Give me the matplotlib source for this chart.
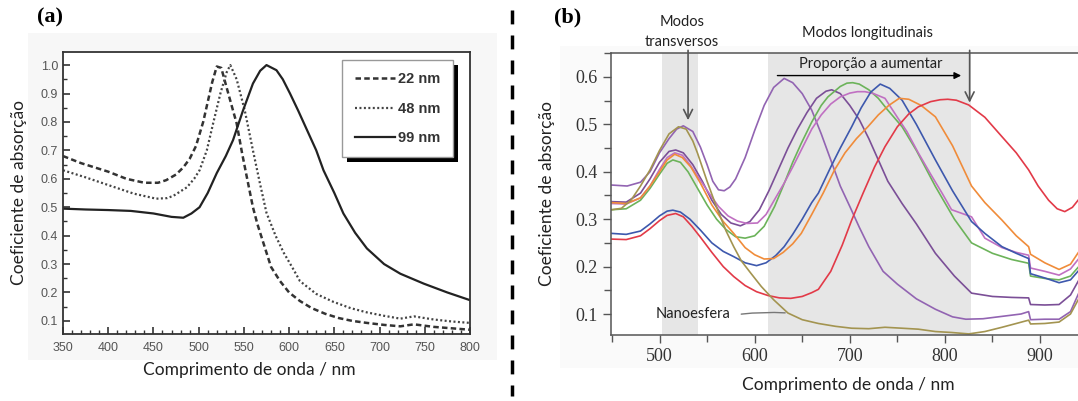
import matplotlib
matplotlib.use('Agg')
import matplotlib.pyplot as plt
from matplotlib.patches import Rectangle
from matplotlib.lines import Line2D
from matplotlib.ticker import MultipleLocator

# ---- painel (a): esferas de ouro de varios tamanhos ----
wl_22 = [350, 370, 400, 420, 440, 455, 464, 475, 483, 490, 497, 505, 510, 515, 520, 525, 531, 538, 542, 548, 553, 560, 565, 572, 580, 590, 600, 612, 625, 640, 655, 670, 686, 705, 723, 738, 760, 780, 800]
ab_22 = [0.68, 0.655, 0.625, 0.60, 0.586, 0.586, 0.595, 0.615, 0.64, 0.67, 0.715, 0.80, 0.87, 0.94, 0.995, 0.99, 0.92, 0.84, 0.795, 0.69, 0.61, 0.50, 0.44, 0.37, 0.29, 0.24, 0.20, 0.17, 0.145, 0.125, 0.11, 0.10, 0.093, 0.086, 0.081, 0.088, 0.079, 0.074, 0.069]

wl_48 = [350, 375, 400, 428, 453, 465, 472, 487, 495, 501, 509, 516, 524, 531, 535, 542, 551, 560, 568, 575, 585, 594, 605, 612, 630, 649, 668, 686, 705, 723, 738, 760, 780, 800]
ab_48 = [0.63, 0.605, 0.578, 0.548, 0.53, 0.532, 0.54, 0.57, 0.60, 0.63, 0.70, 0.795, 0.90, 0.975, 1.0, 0.95, 0.84, 0.70, 0.58, 0.48, 0.40, 0.34, 0.28, 0.24, 0.195, 0.167, 0.145, 0.13, 0.118, 0.108, 0.116, 0.105, 0.098, 0.093]

wl_99 = [350, 375, 400, 425, 450, 470, 483, 492, 501, 510, 520, 530, 538, 549, 560, 568, 575, 586, 593, 601, 610, 620, 630, 638, 650, 660, 673, 686, 705, 723, 749, 775, 800]
ab_99 = [0.495, 0.492, 0.49, 0.487, 0.478, 0.466, 0.463, 0.478, 0.50, 0.55, 0.62, 0.68, 0.736, 0.84, 0.935, 0.98, 1.0, 0.982, 0.95, 0.90, 0.84, 0.77, 0.70, 0.63, 0.55, 0.478, 0.41, 0.355, 0.30, 0.266, 0.231, 0.20, 0.173]

labels_a = ['22 nm', '48 nm', '99 nm']

# ---- painel (b): nanobastoes com proporcao crescente ----
wl_m = [450, 466, 480, 490, 500, 510, 518, 525, 535, 543, 550, 556, 562, 568, 574, 580, 590, 600, 610, 620, 631, 640, 650, 660, 670, 680, 690, 700, 710, 720, 735, 750, 770, 790, 808, 822, 840, 860, 880, 888, 890, 905, 920, 932, 942]
ab_m = [0.372, 0.370, 0.378, 0.40, 0.44, 0.47, 0.49, 0.497, 0.485, 0.452, 0.415, 0.38, 0.362, 0.36, 0.368, 0.385, 0.43, 0.487, 0.54, 0.578, 0.597, 0.588, 0.565, 0.53, 0.48, 0.425, 0.37, 0.327, 0.283, 0.242, 0.19, 0.163, 0.132, 0.11, 0.094, 0.089, 0.09, 0.095, 0.10, 0.105, 0.088, 0.089, 0.089, 0.105, 0.15]

wl_p = [450, 465, 480, 490, 500, 510, 517, 525, 535, 545, 555, 565, 575, 585, 595, 605, 615, 625, 635, 645, 655, 665, 675, 681, 690, 700, 710, 720, 730, 740, 755, 770, 790, 810, 828, 850, 870, 888, 890, 905, 920, 932, 942]
ab_p = [0.337, 0.336, 0.355, 0.385, 0.42, 0.443, 0.446, 0.44, 0.415, 0.38, 0.34, 0.31, 0.292, 0.286, 0.295, 0.32, 0.36, 0.405, 0.45, 0.49, 0.525, 0.555, 0.57, 0.573, 0.565, 0.54, 0.51, 0.47, 0.425, 0.38, 0.333, 0.29, 0.228, 0.18, 0.144, 0.137, 0.135, 0.134, 0.12, 0.119, 0.12, 0.14, 0.176]

wl_g = [450, 465, 480, 490, 500, 508, 514, 522, 530, 540, 550, 560, 570, 580, 590, 600, 610, 621, 630, 640, 649, 660, 670, 677, 690, 697, 703, 710, 720, 730, 740, 755, 770, 790, 810, 828, 850, 870, 888, 890, 905, 920, 932, 942]
ab_g = [0.32, 0.322, 0.34, 0.365, 0.395, 0.418, 0.425, 0.42, 0.40, 0.365, 0.33, 0.30, 0.278, 0.263, 0.26, 0.265, 0.285, 0.327, 0.37, 0.42, 0.46, 0.505, 0.54, 0.558, 0.58, 0.587, 0.588, 0.585, 0.573, 0.555, 0.53, 0.495, 0.445, 0.369, 0.30, 0.25, 0.228, 0.215, 0.207, 0.18, 0.175, 0.172, 0.18, 0.203]

wl_v = [450, 465, 480, 490, 500, 508, 516, 524, 532, 542, 552, 562, 572, 582, 592, 603, 612, 622, 631, 640, 650, 660, 670, 680, 690, 700, 708, 716, 725, 737, 750, 760, 772, 785, 797, 807, 828, 842, 860, 875, 888, 890, 905, 920, 932, 942]
ab_v = [0.333, 0.332, 0.345, 0.37, 0.405, 0.43, 0.44, 0.435, 0.415, 0.385, 0.355, 0.327, 0.307, 0.296, 0.291, 0.292, 0.31, 0.345, 0.376, 0.41, 0.45, 0.49, 0.52, 0.543, 0.558, 0.566, 0.569, 0.569, 0.565, 0.555, 0.515, 0.485, 0.44, 0.395, 0.355, 0.32, 0.305, 0.26, 0.24, 0.23, 0.224, 0.197, 0.19, 0.182, 0.195, 0.22]

wl_b = [450, 465, 480, 490, 500, 508, 514, 522, 532, 543, 555, 567, 578, 590, 602, 612, 622, 631, 640, 650, 660, 667, 680, 690, 702, 712, 722, 732, 742, 755, 770, 790, 808, 828, 842, 860, 875, 888, 890, 905, 920, 932, 942]
ab_b = [0.27, 0.268, 0.275, 0.29, 0.307, 0.317, 0.319, 0.315, 0.30, 0.277, 0.25, 0.232, 0.221, 0.208, 0.202, 0.208, 0.223, 0.242, 0.268, 0.30, 0.335, 0.355, 0.41, 0.45, 0.495, 0.535, 0.568, 0.585, 0.576, 0.551, 0.50, 0.425, 0.36, 0.295, 0.27, 0.242, 0.228, 0.217, 0.185, 0.176, 0.166, 0.172, 0.195]

wl_o = [450, 465, 480, 490, 500, 508, 516, 524, 533, 543, 555, 567, 578, 590, 600, 610, 620, 630, 640, 649, 660, 672, 684, 695, 707, 719, 730, 741, 752, 762, 775, 790, 808, 828, 842, 860, 875, 888, 890, 905, 920, 932, 942]
ab_o = [0.335, 0.333, 0.345, 0.37, 0.40, 0.425, 0.437, 0.43, 0.41, 0.376, 0.33, 0.295, 0.27, 0.24, 0.225, 0.216, 0.217, 0.23, 0.248, 0.27, 0.31, 0.355, 0.404, 0.44, 0.47, 0.495, 0.52, 0.54, 0.555, 0.553, 0.54, 0.516, 0.455, 0.37, 0.335, 0.298, 0.265, 0.242, 0.226, 0.208, 0.194, 0.205, 0.235]

wl_r = [450, 465, 480, 490, 500, 508, 517, 525, 534, 543, 555, 567, 578, 590, 602, 614, 626, 638, 650, 660, 667, 680, 692, 702, 714, 726, 737, 750, 762, 772, 785, 795, 803, 812, 825, 842, 860, 875, 888, 898, 909, 918, 926, 934, 942]
ab_r = [0.258, 0.257, 0.265, 0.28, 0.297, 0.308, 0.312, 0.305, 0.285, 0.262, 0.23, 0.20, 0.179, 0.16, 0.147, 0.139, 0.134, 0.133, 0.137, 0.145, 0.152, 0.19, 0.245, 0.298, 0.355, 0.41, 0.453, 0.495, 0.522, 0.537, 0.548, 0.552, 0.553, 0.551, 0.541, 0.515, 0.474, 0.44, 0.404, 0.37, 0.34, 0.322, 0.316, 0.325, 0.345]

wl_n = [450, 460, 470, 480, 490, 500, 510, 520, 528, 535, 540, 550, 561, 570, 578, 586, 596, 607, 620, 635, 650, 667, 685, 702, 720, 737, 755, 772, 790, 807, 825, 842, 860, 875, 888, 890, 905, 920, 932, 942]
ab_n = [0.32, 0.323, 0.34, 0.37, 0.404, 0.445, 0.48, 0.495, 0.49, 0.465, 0.439, 0.38, 0.32, 0.275, 0.242, 0.212, 0.186, 0.158, 0.13, 0.102, 0.088, 0.08, 0.074, 0.07, 0.069, 0.072, 0.07, 0.068, 0.063, 0.061, 0.058, 0.063, 0.072, 0.08, 0.087, 0.079, 0.08, 0.083, 0.10, 0.137]

series_b = [(wl_m, ab_m, '#9264b2'), (wl_p, ab_p, '#7b4f97'), (wl_g, ab_g, '#6cb35a'),
            (wl_v, ab_v, '#c070c2'), (wl_b, ab_b, '#3d58ad'), (wl_o, ab_o, '#f08c3a'),
            (wl_r, ab_r, '#e23a48'), (wl_n, ab_n, '#a39450')]

band_trans = (503, 540)
band_long = (614, 827)

W, H = 1078, 401
fig = plt.figure(figsize=(W / 100, H / 100), dpi=100)

def px(x0, y0, x1, y1):
    return [x0 / W, 1 - y1 / H, (x1 - x0) / W, (y1 - y0) / H]

# fundos claros das imagens digitalizadas
fig.patches.append(Rectangle((28 / W, 1 - 360 / H), 469 / W, 327 / H, transform=fig.transFigure,
                             facecolor='#f7f7f7', edgecolor='none', zorder=-5))
fig.patches.append(Rectangle((560 / W, 1 - 368 / H), 518 / W, 322 / H, transform=fig.transFigure,
                             facecolor='#fafafa', edgecolor='none', zorder=-5))

# linha tracejada separadora
fig.add_artist(Line2D([512 / W, 512 / W], [1 - 10 / H, 1 - 396 / H], transform=fig.transFigure,
                      color='black', lw=2.5, dashes=(4, 3.2)))

lab_font = 'Lato'

# ---------------- painel (a) ----------------
ax = fig.add_axes(px(63, 52, 470, 334))
ax.plot(wl_22, ab_22, color='#333333', lw=1.8, dashes=(2.2, 1.3), label=labels_a[0])
ax.plot(wl_48, ab_48, color='#444444', lw=1.6, dashes=(0.9, 1.1), label=labels_a[1])
ax.plot(wl_99, ab_99, color='#222222', lw=1.6, label=labels_a[2])
ax.set_xlim(350, 800)
ax.set_ylim(0.054, 1.046)
ax.xaxis.set_major_locator(MultipleLocator(50))
ax.xaxis.set_minor_locator(MultipleLocator(10))
ax.yaxis.set_minor_locator(MultipleLocator(0.05))
ax.set_yticks([0.1, 0.2, 0.3, 0.4, 0.5, 0.6, 0.7, 0.8, 0.9, 1.0])
ax.set_yticklabels(['0.1', '0.2', '0.3', '0.4', '0.5', '0.6', '0.7', '0.8', '0.9', '1.0'])
ax.tick_params(which='both', direction='in', colors='#333333', labelcolor='#555555', labelsize=9)
ax.tick_params(which='major', length=5, width=1.2)
ax.tick_params(which='minor', length=3, width=1)
ax.tick_params(axis='x', pad=6)
for t in ax.get_xticklabels() + ax.get_yticklabels():
    t.set_family('Liberation Sans')
for s in ax.spines.values():
    s.set_color('#333333')
    s.set_linewidth(1.3)
ax.set_xlabel('Comprimento de onda / nm', fontsize=12.5, family=lab_font, color='#222222')
ax.set_ylabel('Coeficiente de absorção', fontsize=12.5, family=lab_font, color='#222222')
ax.xaxis.set_label_coords(0.457, -0.128)
ax.yaxis.set_label_coords(-0.109, 0.5)
ax.xaxis.label.set_va('center')
ax.yaxis.label.set_va('center')
leg = ax.legend(loc='upper left', bbox_to_anchor=(0.686, 0.972), borderaxespad=0, handlelength=2.8,
                handletextpad=0.2, labelspacing=1.05, borderpad=0.85, fancybox=False, framealpha=1,
                edgecolor='#999999', prop={'family': 'Liberation Sans', 'size': 10.5, 'weight': 'bold'})
leg.set_zorder(6)
for t in leg.get_texts():
    t.set_color('#333333')

# sombra preta da legenda (deslocada para a direita e para baixo)
fig.canvas.draw()
bb = leg.get_window_extent().transformed(ax.transAxes.inverted())
dx, dy = 5 / 407, 5 / 282
ax.add_patch(Rectangle((bb.x0 + dx, bb.y0 - dy), bb.width, bb.height, transform=ax.transAxes,
                       facecolor='black', edgecolor='none', clip_on=False, zorder=5.5))

fig.text(37 / W, 1 - 17 / H, '(a)', fontsize=16, weight='bold', family='Liberation Serif', va='center')

# ---------------- painel (b) ----------------
bx = fig.add_axes(px(611, 53, 1080, 335))
bx.axvspan(band_trans[0], band_trans[1], color='#e6e6e6', zorder=0, lw=0)
bx.axvspan(band_long[0], band_long[1], color='#e6e6e6', zorder=0, lw=0)
for wl, ab, c in series_b:
    bx.plot(wl, ab, color=c, lw=1.2)
bx.set_xlim(449, 942)
bx.set_ylim(0.0557, 0.6506)
bx.xaxis.set_major_locator(MultipleLocator(100))
bx.xaxis.set_minor_locator(MultipleLocator(50))
bx.set_yticks([0.1, 0.2, 0.3, 0.4, 0.5, 0.6])
bx.set_yticklabels(['0.1', '0.2', '0.3', '0.4', '0.5', '0.6'])
bx.yaxis.set_minor_locator(MultipleLocator(0.05))
bx.tick_params(which='both', direction='out', colors='#555555', labelcolor='#333333', labelsize=13)
bx.tick_params(which='major', length=6, width=1)
bx.tick_params(which='minor', length=5, width=1)
for t in bx.get_xticklabels() + bx.get_yticklabels():
    t.set_family('Liberation Serif')
bx.spines['right'].set_visible(False)
for s in ['left', 'bottom', 'top']:
    bx.spines[s].set_color('#555555')
    bx.spines[s].set_linewidth(1.1)
bx.set_xlabel('Comprimento de onda / nm', fontsize=12.5, family=lab_font, color='#222222')
bx.set_ylabel('Coeficiente de absorção', fontsize=12.5, family=lab_font, color='#222222')
bx.xaxis.set_label_coords(0.507, -0.177)
bx.yaxis.set_label_coords(-0.137, 0.5)
bx.xaxis.label.set_va('center')
bx.yaxis.label.set_va('center')

# setas e anotacoes
bx.annotate('', xy=(530, 0.503), xytext=(530, 0.662), annotation_clip=False,
            arrowprops=dict(arrowstyle='->', color='#555555', lw=1.2, mutation_scale=16))
bx.annotate('', xy=(826, 0.54), xytext=(826, 0.662), annotation_clip=False,
            arrowprops=dict(arrowstyle='->', color='#555555', lw=1.2, mutation_scale=16))
bx.annotate('', xy=(820, 0.603), xytext=(621, 0.603),
            arrowprops=dict(arrowstyle='-|>', color='black', lw=1.0, mutation_scale=10))
bx.text(722, 0.627, 'Proporção a aumentar', ha='center', va='center', fontsize=10.5, family=lab_font, color='#222222')
bx.text(496, 0.1, 'Nanoesfera', ha='left', va='center', fontsize=10.5, family=lab_font, color='#222222')
bx.annotate('', xy=(635, 0.102), xytext=(583, 0.099),
            arrowprops=dict(arrowstyle='-', color='#777777', lw=1.0, connectionstyle='arc3,rad=-0.05'))
fig.text(682 / W, 1 - 22 / H, 'Modos', ha='center', va='center', fontsize=10.5, family=lab_font, color='#222222')
fig.text(682 / W, 1 - 42 / H, 'transversos', ha='center', va='center', fontsize=10.5, family=lab_font, color='#222222')
fig.text(867 / W, 1 - 33 / H, 'Modos longitudinais', ha='center', va='center', fontsize=10.5, family=lab_font, color='#222222')
fig.text(568 / W, 1 - 17 / H, '(b)', fontsize=16, weight='bold', family='Liberation Serif', va='center', ha='center')

fig.savefig('out.png', dpi=100)
